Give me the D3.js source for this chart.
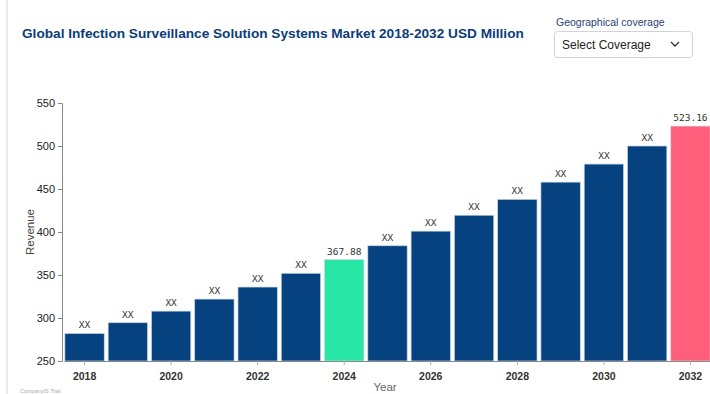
<!DOCTYPE html>
<html>
<head>
<meta charset="utf-8">
<script src="https://cdn.jsdelivr.net/npm/d3@7"></script>
<style>
  body { margin: 0; background: #fff; font-family: "Liberation Sans", Arial, sans-serif; }
  svg { display: block; }
</style>
</head>
<body>
<svg id="chart" width="710" height="394"></svg>
<script>
// chart data
var years = ["2018","2019","2020","2021","2022","2023","2024","2025","2026","2027","2028","2029","2030","2031","2032"];
var revenue = [282, 294.5, 308, 322, 336, 352, 367.88, 384, 401, 419.5, 438, 458, 479, 500, 523.16];
var barLabels = ["XX","XX","XX","XX","XX","XX","367.88","XX","XX","XX","XX","XX","XX","XX","523.16"];
var yTicks = [250, 300, 350, 400, 450, 500, 550];
var xTickYears = ["2018","2020","2022","2024","2026","2028","2030","2032"];

var svg = d3.select("#chart");

// card edge on the left
svg.append("rect")
  .attr("x", 6).attr("y", 0)
  .attr("width", 2).attr("height", 394)
  .attr("fill", "#e9edf2");

// title
svg.append("text")
  .attr("x", 22).attr("y", 38)
  .attr("font-size", "13.65px")
  .attr("font-weight", "bold")
  .attr("fill", "#0b3d78")
  .text("Global Infection Surveillance Solution Systems Market 2018-2032 USD Million");

// dropdown
svg.append("text")
  .attr("x", 556).attr("y", 26)
  .attr("font-size", "10.5px")
  .attr("fill", "#1f3f77")
  .text("Geographical coverage");

svg.append("rect")
  .attr("x", 554.5).attr("y", 31.5)
  .attr("width", 138).attr("height", 26)
  .attr("rx", 3)
  .attr("fill", "#fff")
  .attr("stroke", "#cfd4da");

svg.append("text")
  .attr("x", 562).attr("y", 49)
  .attr("font-size", "12px")
  .attr("fill", "#222")
  .text("Select Coverage");

svg.append("path")
  .attr("d", "M671 42 L675 46 L679 42")
  .attr("fill", "none")
  .attr("stroke", "#333")
  .attr("stroke-width", 1.3);

// scales
var xs = d3.scaleBand()
  .domain(years)
  .range([64, 711])
  .paddingInner(0.09)
  .paddingOuter(0.02);

var ys = d3.scaleLinear()
  .domain([250, 550])
  .range([361, 103]);

var colors = years.map(function(d) {
  if (d == "2024") return "#27e6a6";
  if (d == "2032") return "#ff5f7b";
  return "#05427f";
});

// bars
svg.selectAll(".bar")
  .data(revenue)
  .enter().append("rect")
  .attr("class", "bar")
  .attr("x", function(d, i) { return xs(years[i]); })
  .attr("y", function(d) { return ys(d); })
  .attr("width", xs.bandwidth())
  .attr("height", function(d) { return ys(250) - ys(d); })
  .attr("fill", function(d, i) { return colors[i]; })
  .attr("stroke", "#c9d6e6")
  .attr("stroke-width", 0.7);

// value labels
svg.selectAll(".lbl")
  .data(revenue)
  .enter().append("text")
  .attr("class", "lbl")
  .attr("x", function(d, i) { return xs(years[i]) + xs.bandwidth() / 2; })
  .attr("y", function(d) { return ys(d) - 5; })
  .attr("text-anchor", "middle")
  .attr("font-family", "'DejaVu Sans Mono', monospace")
  .attr("font-size", "9.5px")
  .attr("fill", "#333")
  .text(function(d, i) { return barLabels[i]; });

// y axis
var yAxis = svg.append("g")
  .attr("transform", "translate(62,0)")
  .call(d3.axisLeft(ys).tickValues(yTicks).tickSize(4).tickFormat(d3.format("d")));
yAxis.select(".domain").attr("stroke", "#888");
yAxis.selectAll(".tick line").attr("stroke", "#888");
yAxis.selectAll(".tick text")
  .attr("font-size", "11px")
  .attr("font-family", "'Liberation Sans', Arial, sans-serif")
  .attr("fill", "#222");

// x axis
var xAxis = svg.append("g")
  .attr("transform", "translate(0,361)")
  .call(d3.axisBottom(xs).tickValues(xTickYears).tickSize(4).tickSizeOuter(0));
xAxis.select(".domain").attr("stroke", "#888");
xAxis.selectAll(".tick line").attr("stroke", "#aaa");
xAxis.selectAll(".tick text")
  .attr("dy", "1.1em")
  .attr("font-size", "10.5px")
  .attr("font-weight", "bold")
  .attr("font-family", "'Liberation Sans', Arial, sans-serif")
  .attr("fill", "#333");

// axis titles
svg.append("text")
  .attr("transform", "translate(34,232) rotate(-90)")
  .attr("text-anchor", "middle")
  .attr("font-size", "11.5px")
  .attr("fill", "#444")
  .text("Revenue");

svg.append("text")
  .attr("x", 385).attr("y", 391)
  .attr("text-anchor", "middle")
  .attr("font-size", "11.5px")
  .attr("fill", "#666")
  .text("Year");

svg.append("text")
  .attr("x", 20).attr("y", 393)
  .attr("font-size", "5.5px")
  .attr("fill", "#aaa")
  .text("CompanyIS Trial");
</script>
</body>
</html>
